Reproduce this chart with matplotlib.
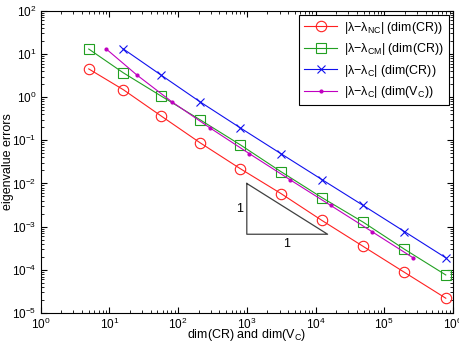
import matplotlib
matplotlib.use("Agg")
import matplotlib.pyplot as plt

plt.rcParams['font.family'] = ['Liberation Sans', 'DejaVu Sans']
plt.rcParams['mathtext.fontset'] = 'custom'
plt.rcParams['mathtext.rm'] = 'Liberation Sans'
plt.rcParams['mathtext.it'] = 'Liberation Sans'
plt.rcParams['mathtext.bf'] = 'Liberation Sans:bold'
plt.rcParams['font.size'] = 9

# mesh dimensions
dim_cr = [5, 16, 56, 208, 800, 3136, 12416, 49408, 197120, 787456]
dim_vc = [9, 25, 81, 289, 1089, 4225, 16641, 66049, 263169]

# eigenvalue errors
err_nc = [4.5, 1.48, 0.37, 0.088, 0.0221, 5.85e-3, 1.39e-3, 3.49e-4, 8.75e-5, 2.2e-5]
err_cm = [13.0, 3.64, 1.07, 0.30, 0.079, 0.0188, 4.7e-3, 1.27e-3, 3.0e-4, 7.6e-5]
err_c = [13.0, 3.27, 0.78, 0.195, 0.049, 0.0123, 3.1e-3, 7.7e-4, 1.9e-4]

# slope triangle
tri_x = [1e3, 1e3, 1.5e4, 1e3]
tri_y = [1e-2, 1e-2 / 15, 1e-2 / 15, 1e-2]

fig = plt.figure(figsize=(4.59, 3.47), dpi=100)
ax = fig.add_axes([0.0887, 0.098, 0.898, 0.871])

ax.loglog(dim_cr, err_nc, '-o', color='#ff2020', mfc='none', ms=7.5, lw=0.8, mew=0.8,
          label=r'|$\lambda$$-$$\lambda_{\mathrm{NC}}$| (dim(CR))')
ax.loglog(dim_cr, err_cm, '-s', color='#22a022', mfc='none', ms=7, lw=0.8, mew=0.8,
          label=r'|$\lambda$$-$$\lambda_{\mathrm{CM}}$| (dim(CR))')
ax.loglog(dim_cr[1:], err_c, '-x', color='#1010ee', ms=6, lw=0.8, mew=0.8,
          label=r'|$\lambda$$-$$\lambda_{\mathrm{C}}$| (dim(CR))')
ax.loglog(dim_vc, err_c, color='#c000c0', marker='.', ms=4, lw=0.8,
          label=r'|$\lambda$$-$$\lambda_{\mathrm{C}}$| (dim(V$_{\mathrm{C}}$))')

ax.plot(tri_x, tri_y, color='#404040', lw=0.9)
ax.text(7.8e2, 2.5e-3, '1', ha='center', va='center')
ax.text(3.8e3, 4.0e-4, '1', ha='center', va='center')

ax.set_xlim(1, 1e6)
ax.set_ylim(1e-5, 1e2)
ax.set_xlabel(r'dim(CR) and dim(V$_{\mathrm{C}}$)')
ax.set_ylabel('eigenvalue errors')
ax.xaxis.set_label_coords(0.5, -0.046)
ax.yaxis.set_label_coords(-0.064, 0.5)
ax.tick_params(which='both', direction='in', top=True, right=True, pad=3,
               labelsize=8.5)
ax.tick_params(which='major', length=4)
ax.tick_params(which='minor', length=2)

leg = ax.legend(loc='upper right', fancybox=False, framealpha=1, edgecolor='black',
                handlelength=2.6, borderaxespad=0.3, labelspacing=0.45,
                handletextpad=0.6, fontsize=9)
leg.get_frame().set_linewidth(0.8)

fig.savefig('out.png', dpi=100)
